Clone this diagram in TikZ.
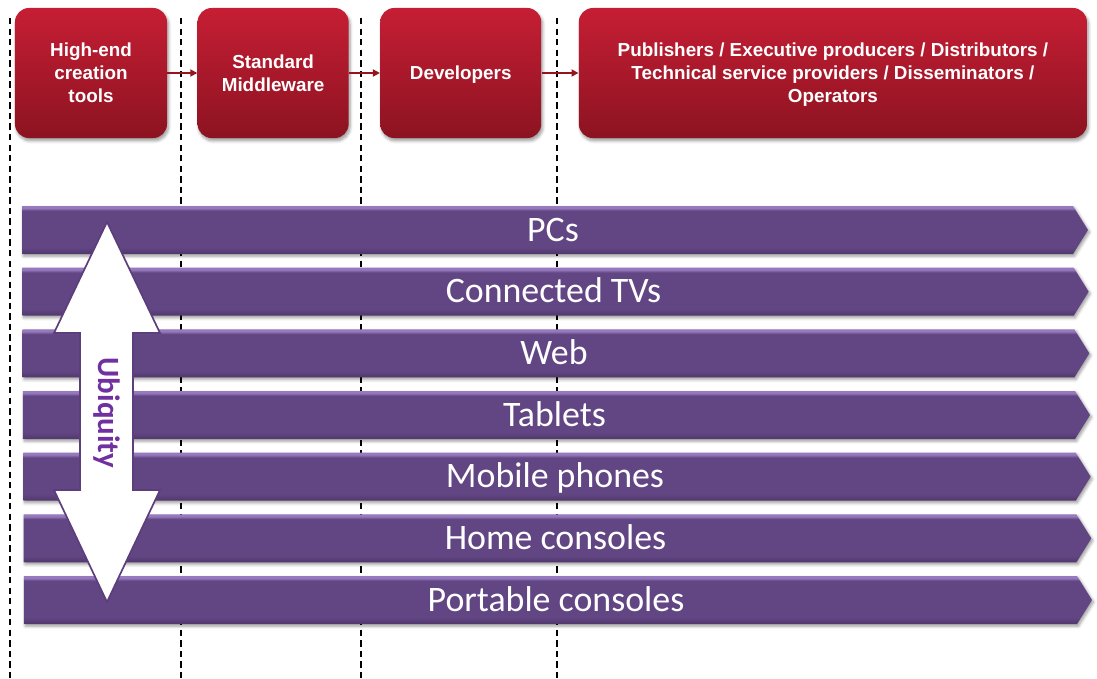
\documentclass[tikz,border=0pt]{standalone}
\usepackage{fontspec}
\setmainfont{Liberation Sans}
\newfontfamily\barfont{Carlito}
\usetikzlibrary{arrows.meta,shadows.blur,positioning}

\definecolor{boxtop}{RGB}{198,30,52}
\definecolor{boxbot}{RGB}{140,19,33}
\definecolor{linkred}{RGB}{150,20,30}
\definecolor{bartop}{RGB}{150,122,190}
\definecolor{barmid}{RGB}{98,70,132}
\definecolor{barbot}{RGB}{80,55,108}
\definecolor{arrowline}{RGB}{92,62,124}
\definecolor{ubiq}{RGB}{112,48,160}

\pgfdeclareverticalshading{barshade}{100bp}{color(0bp)=(barbot); color(25bp)=(barbot);
  color(32bp)=(barmid); color(70bp)=(barmid); color(73bp)=(bartop); color(100bp)=(bartop)}

\begin{document}
\begin{tikzpicture}[x=0.025cm,y=-0.025cm,
    stage/.style={rounded corners=10pt, top color=boxtop, bottom color=boxbot,
      minimum height=3.25cm, inner sep=0pt, text=white, align=center, text depth=0pt,
      font=\fontsize{13.4}{16.4}\selectfont\bfseries,
      blur shadow={shadow xshift=1pt, shadow yshift=-2pt, shadow blur steps=6}},
    link/.style={draw=linkred, line width=1.5pt, -{Triangle[length=5pt,width=5pt]}},
    guide/.style={black, line width=1pt, dash pattern=on 4.5pt off 3pt},
    bar/.style={shading=barshade,
      blur shadow={shadow xshift=1pt, shadow yshift=-1.5pt, shadow blur steps=5}},
    barlabel/.style={text=white, font=\barfont\fontsize{25.5}{30}\selectfont,
      text height=16pt, text depth=0pt, inner sep=0pt},
    ubiqarrow/.style={fill=white, draw=arrowline, line width=1.2pt, line join=miter},
    ubiqlabel/.style={text=ubiq, rotate=-90, inner sep=0pt,
      font=\barfont\bfseries\fontsize{22}{26}\selectfont}]
  \useasboundingbox (0,0) rectangle (1097,678);

  % column separators
  \foreach \x in {10,181,361,557}
    \draw[guide] (\x,18) -- (\x,678);

  % value chain
  \node[stage, minimum width=3.8cm] (hi) at (91,73) {High-end\\creation\\tools};
  \node[stage, minimum width=3.775cm, right=0.75cm of hi] (mw) {Standard\\Middleware};
  \node[stage, minimum width=4.025cm, right=0.775cm of mw] (dev) {Developers};
  \node[stage, minimum width=12.7cm, right=0.925cm of dev] (pub)
    {Publishers / Executive producers / Distributors /\\
     Technical service providers / Disseminators /\\ Operators};
  \draw[link] (hi) -- (mw);
  \draw[link] (mw) -- (dev);
  \draw[link] (dev) -- (pub);

  % platforms
  \foreach \lbl [count=\i from 0] in {PCs,Connected TVs,Web,Tablets,
      Mobile phones,Home consoles,Portable consoles}{
    \pgfmathsetmacro\yc{230+61.67*\i}
    \pgfmathsetmacro\xl{22+0.33*\i}
    \pgfmathsetmacro\xt{1073+0.67*\i}
    \pgfmathsetmacro\xp{1088+0.67*\i}
    \path[bar] (\xl,\yc-24) -- (\xt,\yc-24) -- (\xp,\yc)
      -- (\xt,\yc+24) -- (\xl,\yc+24) -- cycle;
    \node[barlabel] (bar\i) at ({(\xl+\xp)/2-2},\yc) {\lbl};
  }

  % ubiquity
  \path[ubiqarrow] (107,222) -- (160,333) -- (133,333) -- (133,490) -- (160,490)
    -- (107,602) -- (54,490) -- (80,490) -- (80,333) -- (54,333) -- cycle;
  \node[ubiqlabel] (ubiq) at (107,413) {Ubiquity};
\end{tikzpicture}
\end{document}
